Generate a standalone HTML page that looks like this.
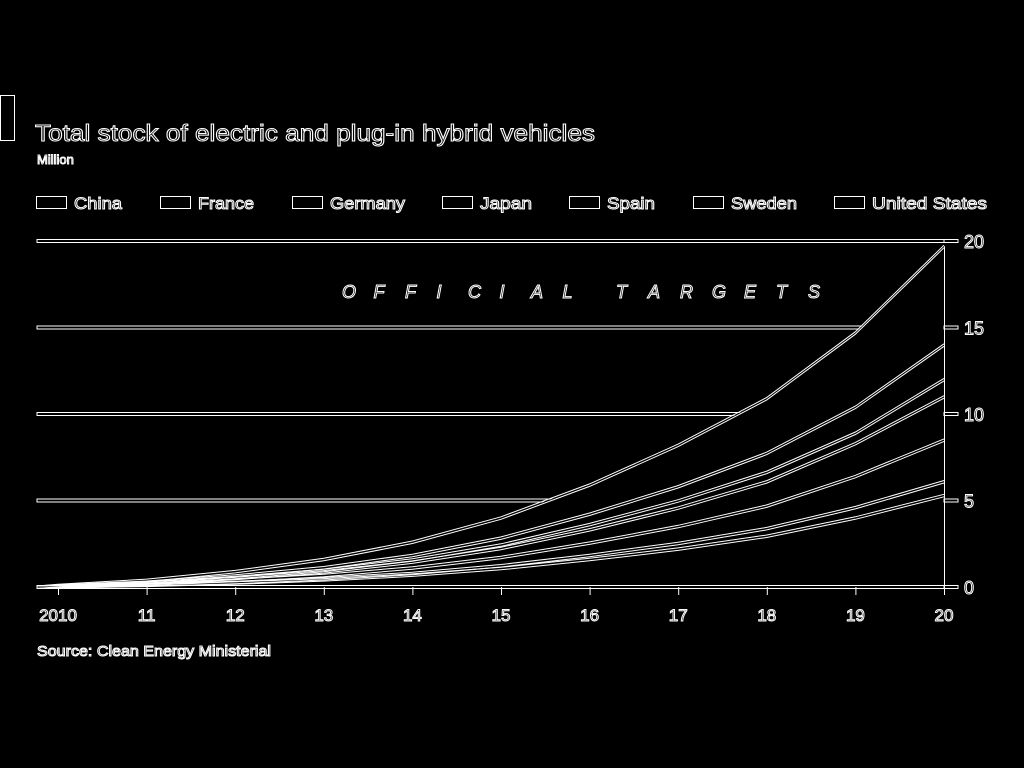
<!DOCTYPE html>
<html><head><meta charset="utf-8">
<style>
html,body{margin:0;padding:0;background:#000;width:1024px;height:768px;overflow:hidden}
svg{display:block}
.o{fill:#000;stroke:#fff;stroke-width:1;font-family:"Liberation Sans",sans-serif;paint-order:normal}
</style></head>
<body>
<svg id="chart" width="1024" height="768">
  <rect x="0.5" y="95.5" width="14" height="45" fill="none" stroke="#fff"/>
  <text class="o" x="35" y="141" font-size="23" textLength="560" lengthAdjust="spacingAndGlyphs">Total stock of electric and plug-in hybrid vehicles</text>
  <text class="o" x="37" y="164" font-size="13" stroke-width="0.7">Million</text>
  <g id="legend"></g>
  <g id="targets"></g>
  <g id="areas"></g>
  <g id="axes"></g>
  <text class="o" x="37" y="656" font-size="15" stroke-width="0.8" textLength="234" lengthAdjust="spacingAndGlyphs">Source: Clean Energy Ministerial</text>
</svg>
<script>
const years = [2010,2011,2012,2013,2014,2015,2016,2017,2018,2019,2020];
const xTickLabels = ["2010","11","12","13","14","15","16","17","18","19","20"];
const yTicks = [0,5,10,15,20];
const targetLevels = [5,10,15,20];
const seriesNames = ["China","France","Germany","Japan","Spain","Sweden","United States"];
const china   = [0.03,0.11,0.24,0.43,0.70,1.08,1.6,2.2,2.95,4.0,5.3];
const france  = [0.00,0.02,0.04,0.06,0.10,0.16,0.24,0.33,0.44,0.6,0.8];
const germany = [0.01,0.05,0.11,0.19,0.31,0.48,0.71,0.98,1.3,1.8,2.4];
const japan   = [0.01,0.05,0.12,0.21,0.34,0.52,0.77,1.07,1.4,1.9,2.5];
const spain   = [0.01,0.02,0.05,0.08,0.13,0.2,0.3,0.41,0.55,0.6,1.0];
const sweden  = [0.01,0.04,0.09,0.16,0.26,0.4,0.6,0.82,1.1,1.5,2.0];
const us      = [0.03,0.11,0.25,0.47,0.76,1.16,1.68,2.39,3.16,4.3,5.7];
const seriesValues = [china,france,germany,japan,spain,sweden,us];

const NS="http://www.w3.org/2000/svg";
const X0=58, XSTEP=88.6, Y0=587, YS=17.3;
const xs = y => X0 + (y-2010)*XSTEP;
const ys = v => Y0 - v*YS;
function mk(tag, attrs, parent){const e=document.createElementNS(NS,tag);for(const k in attrs)e.setAttribute(k,attrs[k]);parent.appendChild(e);return e;}

// legend
const legend=document.getElementById('legend');
const legX=[36,160,292,442,569,693,834];
const legW=[48,56,75,52,48,66,115];
seriesNames.forEach((n,i)=>{
  const r=mk('rect',{x:legX[i]+0.5,y:196.5,width:30,height:12,fill:'none',stroke:'#fff'},legend);
  
  
  const t=mk('text',{x:legX[i]+38,y:209,'font-size':17,class:'o','stroke-width':0.8,textLength:legW[i],lengthAdjust:'spacingAndGlyphs'},legend);
  t.textContent=n;
  
  
});

// target lines
const tg=document.getElementById('targets');
targetLevels.forEach(v=>{
  const y=ys(v);
  const r=mk('rect',{x:37,y:y-1.5,width:(v===20?921:907),height:3,fill:'none',stroke:'#fff','stroke-width':1},tg);
  
  
});
const letters="OFFICIAL";const letters2="TARGETS";
for(let i=0;i<letters.length;i++){const t=mk('text',{x:342+i*31.5,y:298,'font-size':18,'font-style':'italic',class:'o','stroke-width':0.8},tg);t.textContent=letters[i];

}
for(let i=0;i<letters2.length;i++){const t=mk('text',{x:616+i*32,y:298,'font-size':18,'font-style':'italic',class:'o','stroke-width':0.8},tg);t.textContent=letters2[i];

}

// stacked areas
const ag=document.getElementById('areas');
let cum=years.map(()=>0);
const tops=[];
seriesValues.forEach(s=>{cum=cum.map((c,i)=>c+s[i]);tops.push(cum.slice());});
for(let k=tops.length-1;k>=0;k--){
  const top=tops[k];
  let d='M37,'+Y0+' L'+xs(2010)+','+ys(top[0]).toFixed(1);
  top.forEach((v,i)=>{d+=' L'+xs(years[i]).toFixed(1)+','+ys(v).toFixed(1);});
  d+=' L'+xs(2020)+','+Y0+' Z';
  const p=mk('path',{d:d,fill:'#000',stroke:'none'},ag);
  
  
}
tops.forEach((top,k)=>{
  let d='M37,'+Y0;
  top.forEach((v,i)=>{d+=' L'+xs(years[i]).toFixed(1)+','+ys(v).toFixed(1);});
  const p1=mk('path',{d:d,fill:'none',stroke:'#fff','stroke-width':1,transform:'translate(0,-1)'},ag);
  
  
  const p2=mk('path',{d:d,fill:'none',stroke:'#fff','stroke-width':1,transform:'translate(0,1.5)'},ag);
  
  
});

// axes
const ax=document.getElementById('axes');
const vline=mk('line',{x1:xs(2020)+0.5,y1:ys(tops[tops.length-1][10]),x2:xs(2020)+0.5,y2:Y0+8,stroke:'#fff'},ax);


const base=mk('rect',{x:37,y:Y0-1.5,width:xs(2020)-37,height:3,fill:'none',stroke:'#fff'},ax);


years.forEach((y,i)=>{
  const tk=mk('line',{x1:xs(y)+0.5,y1:Y0,x2:xs(y)+0.5,y2:Y0+8,stroke:'#fff'},ax);
  
  
  const t=mk('text',{x:xs(y),y:621,'font-size':17,'text-anchor':'middle',class:'o','stroke-width':0.8},ax);
  t.textContent=xTickLabels[i];
  
  
});
yTicks.forEach(v=>{
  const tk=mk('rect',{x:xs(2020),y:ys(v)-1.5,width:14,height:3,fill:'none',stroke:'#fff'},ax);
  
  
  const t=mk('text',{x:964,y:ys(v)+7,'font-size':18,class:'o','stroke-width':0.8},ax);
  t.textContent=v;
  
  
});
</script>
</body></html>
